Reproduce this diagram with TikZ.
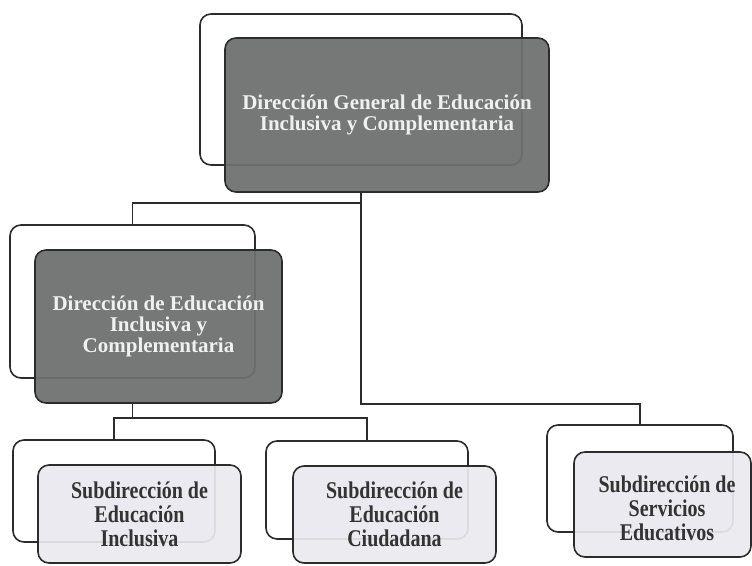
\documentclass[tikz,border=0pt]{standalone}
\usepackage{fontspec}
\setmainfont{Liberation Serif}

\definecolor{boxline}{HTML}{2C2C2C}
\definecolor{darkfill}{HTML}{6E7070}
\definecolor{lightfill}{HTML}{E9E9EF}
\definecolor{darktext}{HTML}{F0F0F0}
\definecolor{lighttext}{HTML}{333333}

\begin{document}
\begin{tikzpicture}[x=1pt,y=-1pt,
  backbox/.style={draw=boxline,line width=1.6pt,rounded corners=11pt,fill=white,inner sep=0pt},
  darkbox/.style={backbox,fill=darkfill,fill opacity=.94,text opacity=1,text=darktext,
    font=\bfseries\fontsize{21}{21}\selectfont,align=center},
  lightbox/.style={backbox,fill=lightfill,fill opacity=.92},
  subtext/.style={text=lighttext,font=\bfseries\fontsize{20}{20}\selectfont,align=center,yscale=1.2},
  conn/.style={draw=boxline,line width=1.7pt}]
  \useasboundingbox (0,0) rectangle (752,565);

  % levels of the connectors
  \coordinate (lvl1) at (0,203);
  \coordinate (lvl2) at (0,404);
  \coordinate (lvl3) at (0,418);

  % top
  \node[backbox,minimum width=322pt,minimum height=151pt] (dgB) at (361,89.5) {};
  \node[darkbox,minimum width=324pt,minimum height=154pt] (dgF) at (387,115)
    {Dirección General de Educación\\Inclusiva y Complementaria};

  % second level
  \node[backbox,minimum width=245pt,minimum height=153pt] (deB) at (132.5,301.5) {};
  \node[darkbox,minimum width=247pt,minimum height=153pt] (deF) at (158.5,326.5)
    {Dirección de Educación\\Inclusiva y\\Complementaria};

  % third level
  \node[backbox,minimum width=202pt,minimum height=102pt] (sub1B) at (114,491) {};
  \node[lightbox,minimum width=203pt,minimum height=98pt] (sub1F) at (139.5,514) {};
  \node[subtext] (sub1T) at (sub1F) {Subdirección de\\Educación\\Inclusiva};

  \node[backbox,minimum width=202pt,minimum height=98pt] (sub2B) at (367,490) {};
  \node[lightbox,minimum width=203pt,minimum height=97pt] (sub2F) at (394.5,514.5) {};
  \node[subtext] (sub2T) at (sub2F) {Subdirección de\\Educación\\Ciudadana};

  \node[backbox,minimum width=186pt,minimum height=107pt] (sub3B) at (640,478.5) {};
  \node[lightbox,minimum width=177pt,minimum height=105pt] (sub3F) at (662.5,504.5) {};
  \node[subtext] (sub3T) at (667,508) {Subdirección de\\Servicios\\Educativos};

  % connectors
  \draw[conn] (dgF.south -| dgB.south) -- (lvl2 -| dgB.south) -| (sub3B.north);
  \draw[conn] (lvl1 -| dgB.south) -| (deB.north);
  \draw[conn] (deF.south -| deB.south) -- (lvl3 -| deB.south);
  \draw[conn] (sub1B.north) |- (lvl3 -| sub2B.north) -- (sub2B.north);
\end{tikzpicture}
\end{document}
